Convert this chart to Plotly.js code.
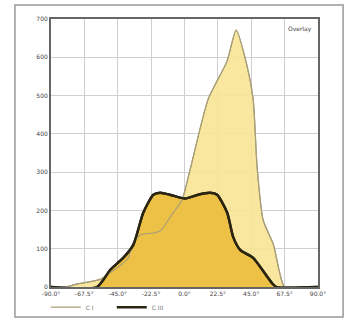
<!DOCTYPE html>
<html>
<head>
<meta charset="utf-8">
<script src="https://cdn.plot.ly/plotly-3.0.1.min.js"></script>
<style>html,body{margin:0;padding:0;background:#fff;}#chart{width:352px;height:320px;}</style>
</head>
<body>
<div id="chart"></div>
<script>
// Series C I (light)
const ciAngle = [-90, -79.7, -72.3, -56.8, -50.1, -42.0, -38.0, -34.6, -29.9, -21.0, -16.4, -7.6, -1.6, 3.8, 15.9, 28.7, 34.8, 42.2, 46.3, 49.0, 53.0, 60.0, 64.0, 67.5, 90];
const ciValue = [0, 0, 8, 20, 37, 60, 75, 115, 136, 141, 146, 194, 228, 307, 490, 590, 671, 577, 490, 310, 175, 110, 40, 0, 0];
// Series C III (dark)
const ciiiAngle = [-90, -59.0, -50.0, -41.3, -34.5, -27.8, -21.0, -16.4, -9.8, 0.4, 9.2, 17.3, 22.0, 28.8, 32.8, 37.5, 46.3, 59.0, 62.0, 90];
const ciiiValue = [0, 0, 45, 76, 110, 194, 241, 246, 241, 231, 241, 246, 241, 194, 131, 97, 76, 10, 0, 0];
// Axis ticks
const xTickVals = [-90, -67.5, -45, -22.5, 0, 22.5, 45, 67.5, 90];
const xTickText = ['-90.0°', '-67.5°', '-45.0°', '-22.5°', '0.0°', '22.5°', '45.0°', '67.5°', '90.0°'];
const yTickVals = [0, 100, 200, 300, 400, 500, 600, 700];
const seriesNames = ['C I', 'C III'];
const cornerLabel = 'Overlay';

const lightLine = {color: '#a89f78', width: 1.2, shape: 'spline', smoothing: 0.6};
const darkLine = {color: '#2a2412', width: 2.4, shape: 'spline', smoothing: 0.6};

const traces = [
  {x: ciAngle, y: ciValue, type: 'scatter', mode: 'lines', name: seriesNames[0],
   fill: 'tozeroy', fillcolor: 'rgba(248,228,150,0.9)', line: lightLine, showlegend: false},
  {x: ciiiAngle, y: ciiiValue, type: 'scatter', mode: 'lines', name: seriesNames[1],
   fill: 'tozeroy', fillcolor: '#ecc145', line: darkLine, showlegend: false},
  {x: ciAngle, y: ciValue, type: 'scatter', mode: 'lines', name: seriesNames[0],
   line: lightLine, showlegend: true},
  {x: ciiiAngle, y: ciiiValue, type: 'scatter', mode: 'lines', name: seriesNames[1],
   line: darkLine, showlegend: true}
];

const layout = {
  width: 352, height: 320,
  margin: {l: 51, r: 34, t: 19, b: 33, autoexpand: false},
  paper_bgcolor: '#fff', plot_bgcolor: '#fff',
  font: {family: 'DejaVu Sans, sans-serif', size: 6, color: '#444'},
  xaxis: {range: [-90, 90], tickvals: xTickVals, ticktext: xTickText,
    showgrid: true, gridcolor: '#cfcfcf', gridwidth: 1,
    showline: true, linecolor: '#666', linewidth: 2, mirror: true,
    zeroline: false, ticks: '', tickfont: {size: 6, color: '#444'}},
  yaxis: {range: [0, 700], tickvals: yTickVals,
    showgrid: true, gridcolor: '#cfcfcf', gridwidth: 1,
    showline: true, linecolor: '#666', linewidth: 2, mirror: true,
    zeroline: false, ticks: '', tickfont: {size: 6, color: '#444'}},
  legend: {orientation: 'h', xref: 'container', yref: 'container', x: 0.13, y: 0.04,
    xanchor: 'left', yanchor: 'middle', entrywidth: 21, entrywidthmode: 'pixels',
    font: {size: 6, color: '#777'}, bgcolor: 'rgba(0,0,0,0)', itemwidth: 30, tracegroupgap: 0},
  annotations: [{text: cornerLabel, xref: 'paper', yref: 'paper', x: 0.985, y: 0.985,
    xanchor: 'right', yanchor: 'top', showarrow: false, font: {size: 6, color: '#444'}}],
  shapes: [{type: 'rect', xref: 'paper', yref: 'paper', x0: -0.135, x1: 1.094, y0: -0.112, y1: 1.052,
    line: {color: '#999', width: 1.5}, fillcolor: 'rgba(0,0,0,0)', layer: 'below'}],
  showlegend: true
};

Plotly.newPlot('chart', traces, layout, {displayModeBar: false, staticPlot: true});
</script>
</body>
</html>
